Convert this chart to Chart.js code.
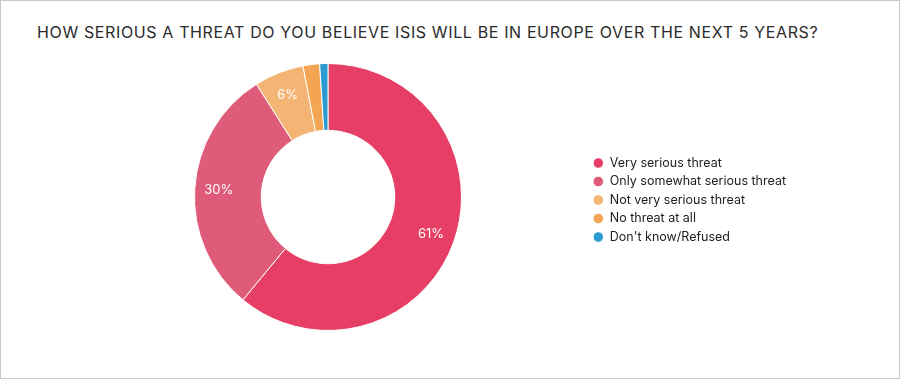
<!DOCTYPE html>
<html>
<head>
<meta charset="utf-8">
<script src="https://cdn.jsdelivr.net/npm/chart.js@4.4.0/dist/chart.umd.min.js"></script>
<style>
  body { margin: 0; background: #fff; }
  #wrap { position: relative; width: 900px; height: 379px; box-sizing: border-box; border: 1px solid #c8c8c8; background: #fff; }
  #title { position: absolute; left: 36px; top: 21px; font-family: Inter, "Noto Sans", sans-serif; font-size: 16px; color: #2b2b2b; letter-spacing: 0.63px; white-space: nowrap; }
  #c { position: absolute; left: 0; top: 0; }
</style>
</head>
<body>
<div id="wrap">
  <div id="title">HOW SERIOUS A THREAT DO YOU BELIEVE ISIS WILL BE IN EUROPE OVER THE NEXT 5 YEARS?</div>
  <canvas id="c" width="898" height="377"></canvas>
</div>
<script>
// answers + shares (percent)
var labels = ["Very serious threat", "Only somewhat serious threat", "Not very serious threat", "No threat at all", "Don't know/Refused"];
var values = [61, 30, 6, 2, 1];
var colors = ["#e63e65", "#de5b79", "#f4b473", "#f4a553", "#2e9bd0"];

// percent labels inside the bigger slices
var sliceLabels = {
    id: 'sliceLabels',
    afterLayout: function(chart) {
        // nudge legend a bit lower, like the original
        chart.legend.top += 3;
        chart.legend.bottom += 3;
    },
    afterDatasetsDraw: function(chart) {
        var ctx = chart.ctx;
        var meta = chart.getDatasetMeta(0);
        ctx.save();
        ctx.fillStyle = '#fff';
        ctx.font = '13px Inter, "Noto Sans", sans-serif';
        ctx.textAlign = 'center';
        ctx.textBaseline = 'middle';
        meta.data.forEach(function(arc, i) {
            if (values[i] < 5) return;
            var p = arc.getProps(['x', 'y', 'startAngle', 'endAngle', 'innerRadius', 'outerRadius'], true);
            var a = (p.startAngle + p.endAngle) / 2;
            var r = p.innerRadius + (p.outerRadius - p.innerRadius) * 0.64;
            ctx.fillText(values[i] + '%', p.x + Math.cos(a) * r, p.y + Math.sin(a) * r);
        });
        ctx.restore();
    }
};

var ctx = document.getElementById('c').getContext('2d');
var chart = new Chart(ctx, {
    type: 'doughnut',
    data: {
        labels: labels,
        datasets: [{
            data: values,
            backgroundColor: colors,
            borderColor: '#fff',
            borderWidth: 1
        }]
    },
    options: {
        responsive: false,
        animation: false,
        cutout: '50%',
        layout: { padding: { left: 68, right: 103, top: 62, bottom: 47 } },
        plugins: {
            tooltip: { enabled: false },
            legend: {
                position: 'right',
                labels: {
                    usePointStyle: true,
                    pointStyle: 'circle',
                    boxHeight: 7.5,
                    pointStyleWidth: 10.5,
                    padding: 6,
                    color: '#222',
                    font: { family: 'Inter, "Noto Sans", sans-serif', size: 12.5 }
                }
            }
        }
    },
    plugins: [sliceLabels]
});
</script>
</body>
</html>
